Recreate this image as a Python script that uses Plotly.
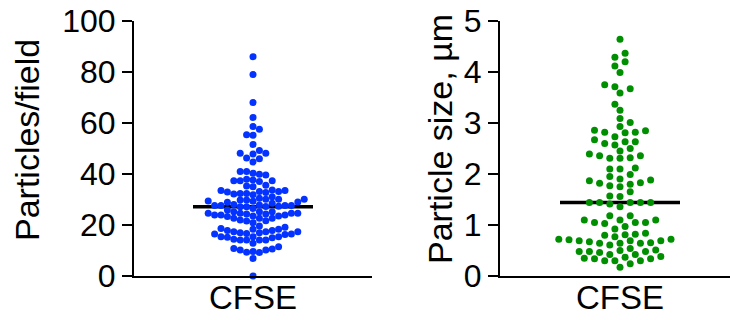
import numpy as np
import plotly.graph_objects as go

# Particles per field, CFSE-labelled sample
particles_per_field = [
    86.0, 79.0, 68.0, 62.2, 58.6, 57.5, 55.4, 55.2, 51.6, 49.2, 48.1, 48.1, 47.8,
    46.3, 46.0, 44.7, 41.0, 41.0, 40.3, 39.9, 39.6, 37.9, 37.6, 37.4, 37.4, 37.4,
    37.1, 35.6, 35.3, 35.0,
    33.7, 33.5, 33.5, 33.1, 33.1, 32.9, 32.7, 32.4, 32.4, 32.2, 31.9, 31.1,
    30.5, 30.1, 30.1, 30.1, 29.8, 29.8, 29.4, 29.3, 29.0, 28.9, 28.5,
    28.0, 27.8, 27.6, 27.6, 27.6, 27.6, 27.4, 27.3, 27.2, 27.2, 26.5, 25.9,
    25.2, 25.2, 25.2,
    24.6, 24.6, 24.6, 24.6, 24.3, 24.3, 23.9, 23.9, 23.9, 23.5, 23.5, 23.3,
    22.6, 22.6, 22.6,
    22.0, 21.7, 21.6, 20.9, 19.6, 19.1,
    18.6, 18.3, 18.3, 17.8, 17.8, 17.4, 17.4, 17.4, 17.0, 17.0, 16.7, 16.5,
    16.5, 16.3, 15.2,
    15.4, 15.4, 15.4, 15.0, 14.4, 14.1, 14.1, 14.1, 14.1,
    12.8, 11.5, 10.8, 10.6, 10.2, 10.2, 9.6, 9.3, 9.2, 6.9, 0.0,
]

# Particle size (µm), same sample
particle_size_um = [
    4.64, 4.37, 4.29, 4.20, 4.12, 3.99, 3.75, 3.67, 3.59, 3.71, 3.37, 3.25, 3.09, 3.01,
    2.86, 2.81, 2.82, 2.93, 2.82, 2.85,
    2.63, 2.60, 2.57, 2.63, 2.73, 2.67,
    2.50,
    2.45, 2.39, 2.31, 2.36, 2.31, 2.36, 2.32,
    2.10, 2.12, 2.10,
    1.99, 1.95,
    1.87, 1.88, 1.90, 1.83,
    1.75, 1.77, 1.82, 1.80,
    1.65,
    1.56, 1.57,
    1.44, 1.44, 1.44, 1.44, 1.44, 1.41, 1.36,
    1.18, 1.10, 1.18, 1.03, 1.05, 1.10, 1.05, 1.05, 1.10,
    0.97,
    0.84, 0.77, 0.80, 0.92, 0.82, 0.81,
    0.72, 0.69, 0.67, 0.64, 0.64, 0.61, 0.69, 0.72, 0.69, 0.65, 0.71, 0.64,
    0.48, 0.54, 0.46, 0.48, 0.51, 0.48, 0.42, 0.42, 0.50,
    0.34, 0.35, 0.38, 0.37, 0.30, 0.30, 0.34, 0.30,
    0.24, 0.17,
]

group_label = "CFSE"
left_title = "Particles/field"
right_title = "Particle size, µm"
left_ticks = [0, 20, 40, 60, 80, 100]
right_ticks = [0, 1, 2, 3, 4, 5]

BLUE = "#0433FF"
GREEN = "#008F00"
FONT = "Liberation Sans, Arial, Helvetica, sans-serif"

W, H = 730, 320
PLOT_TOP, PLOT_BOTTOM = 21, 276          # pixel rows of the y-range ends
LEFT_X0, LEFT_X1 = 134, 372
RIGHT_X0, RIGHT_X1 = 500, 730
LEFT_CENTER, RIGHT_CENTER = 253, 620
PLOT_H = PLOT_BOTTOM - PLOT_TOP
GROUP_LABEL_MID = 297                    # pixel row of the group-label centre


def swarm_offsets(values, px_per_unit, step, wx, wy):
    """Grid beeswarm: horizontal pixel offset for each value."""
    ys = np.asarray(values, dtype=float) * px_per_unit
    order = np.argsort(ys, kind="stable")
    xs = np.zeros(len(ys))
    placed = []
    flip = 1
    for i in order:
        y = ys[i]
        near = [(px, py) for px, py in placed if abs(py - y) < wy]
        chosen = 0.0
        for m in range(0, 40):
            sides = [0] if m == 0 else [flip * m, -flip * m]
            found = False
            for k in sides:
                x = k * step
                if all(((x - px) / wx) ** 2 + ((y - py) / wy) ** 2 >= 0.999 for px, py in near):
                    chosen = x
                    found = True
                    break
            if found:
                break
        if chosen != 0:
            flip = -flip
        xs[i] = chosen
        placed.append((chosen, y))
    return xs


left_x = swarm_offsets(particles_per_field, PLOT_H / 100.0, 6.4, 6.4, 6.6)
right_x = swarm_offsets(particle_size_um, PLOT_H / 5.0, 5.1, 10.0, 7.0)

left_med = float(np.median(particles_per_field))
right_med = float(np.median(particle_size_um))

fig = go.Figure()

# median bars (drawn under the dots)
fig.add_trace(go.Scatter(x=[-60, 60], y=[left_med, left_med], mode="lines",
                         line=dict(color="black", width=3.5), xaxis="x", yaxis="y",
                         hoverinfo="skip", showlegend=False))
fig.add_trace(go.Scatter(x=[-60, 60], y=[right_med, right_med], mode="lines",
                         line=dict(color="black", width=3.5), xaxis="x2", yaxis="y2",
                         hoverinfo="skip", showlegend=False))

fig.add_trace(go.Scatter(x=left_x, y=particles_per_field, mode="markers",
                         marker=dict(color=BLUE, size=7, line=dict(width=0)),
                         xaxis="x", yaxis="y", cliponaxis=False, showlegend=False))
fig.add_trace(go.Scatter(x=right_x, y=particle_size_um, mode="markers",
                         marker=dict(color=GREEN, size=7, line=dict(width=0)),
                         xaxis="x2", yaxis="y2", cliponaxis=False, showlegend=False))

y_dom = [1 - PLOT_BOTTOM / H, 1 - PLOT_TOP / H]

axis_common = dict(showgrid=False, zeroline=False, showline=True, linecolor="black",
                   linewidth=2, automargin=False,
                   tickfont=dict(family=FONT, size=32, color="black"))

fig.update_layout(
    template="none",
    width=W, height=H,
    margin=dict(l=0, r=0, t=0, b=0, pad=0),
    paper_bgcolor="white", plot_bgcolor="white",
    font=dict(family=FONT, color="black"),
    xaxis=dict(domain=[LEFT_X0 / W, LEFT_X1 / W],
               range=[LEFT_X0 - LEFT_CENTER, LEFT_X1 - LEFT_CENTER],
               showticklabels=False, ticks="", anchor="y",
               fixedrange=True, **axis_common),
    yaxis=dict(domain=y_dom, range=[0, 100], tickvals=left_ticks, ticks="outside",
               ticklen=10, tickwidth=2, tickcolor="black", anchor="x",
               fixedrange=True, **axis_common),
    xaxis2=dict(domain=[RIGHT_X0 / W, RIGHT_X1 / W],
                range=[RIGHT_X0 - RIGHT_CENTER, RIGHT_X1 - RIGHT_CENTER],
                showticklabels=False, ticks="", anchor="y2",
                fixedrange=True, **axis_common),
    yaxis2=dict(domain=y_dom, range=[0, 5], tickvals=right_ticks, ticks="outside",
                ticklen=10, tickwidth=2, tickcolor="black", anchor="x2",
                fixedrange=True, **axis_common),
    annotations=[
        dict(text=left_title, x=27 / W, y=1 - 140 / H, xref="paper", yref="paper",
             textangle=-90, showarrow=False, xanchor="center", yanchor="middle",
             font=dict(family=FONT, size=34, color="black")),
        dict(text=right_title, x=440 / W, y=1 - 139 / H, xref="paper", yref="paper",
             textangle=-90, showarrow=False, xanchor="center", yanchor="middle",
             font=dict(family=FONT, size=34, color="black")),
        dict(text=group_label, x=0, xref="x", y=1 - GROUP_LABEL_MID / H, yref="paper",
             showarrow=False, xanchor="center", yanchor="middle",
             font=dict(family=FONT, size=33, color="black")),
        dict(text=group_label, x=0, xref="x2", y=1 - GROUP_LABEL_MID / H, yref="paper",
             showarrow=False, xanchor="center", yanchor="middle",
             font=dict(family=FONT, size=33, color="black")),
    ],
)

fig.write_html("out.html")
